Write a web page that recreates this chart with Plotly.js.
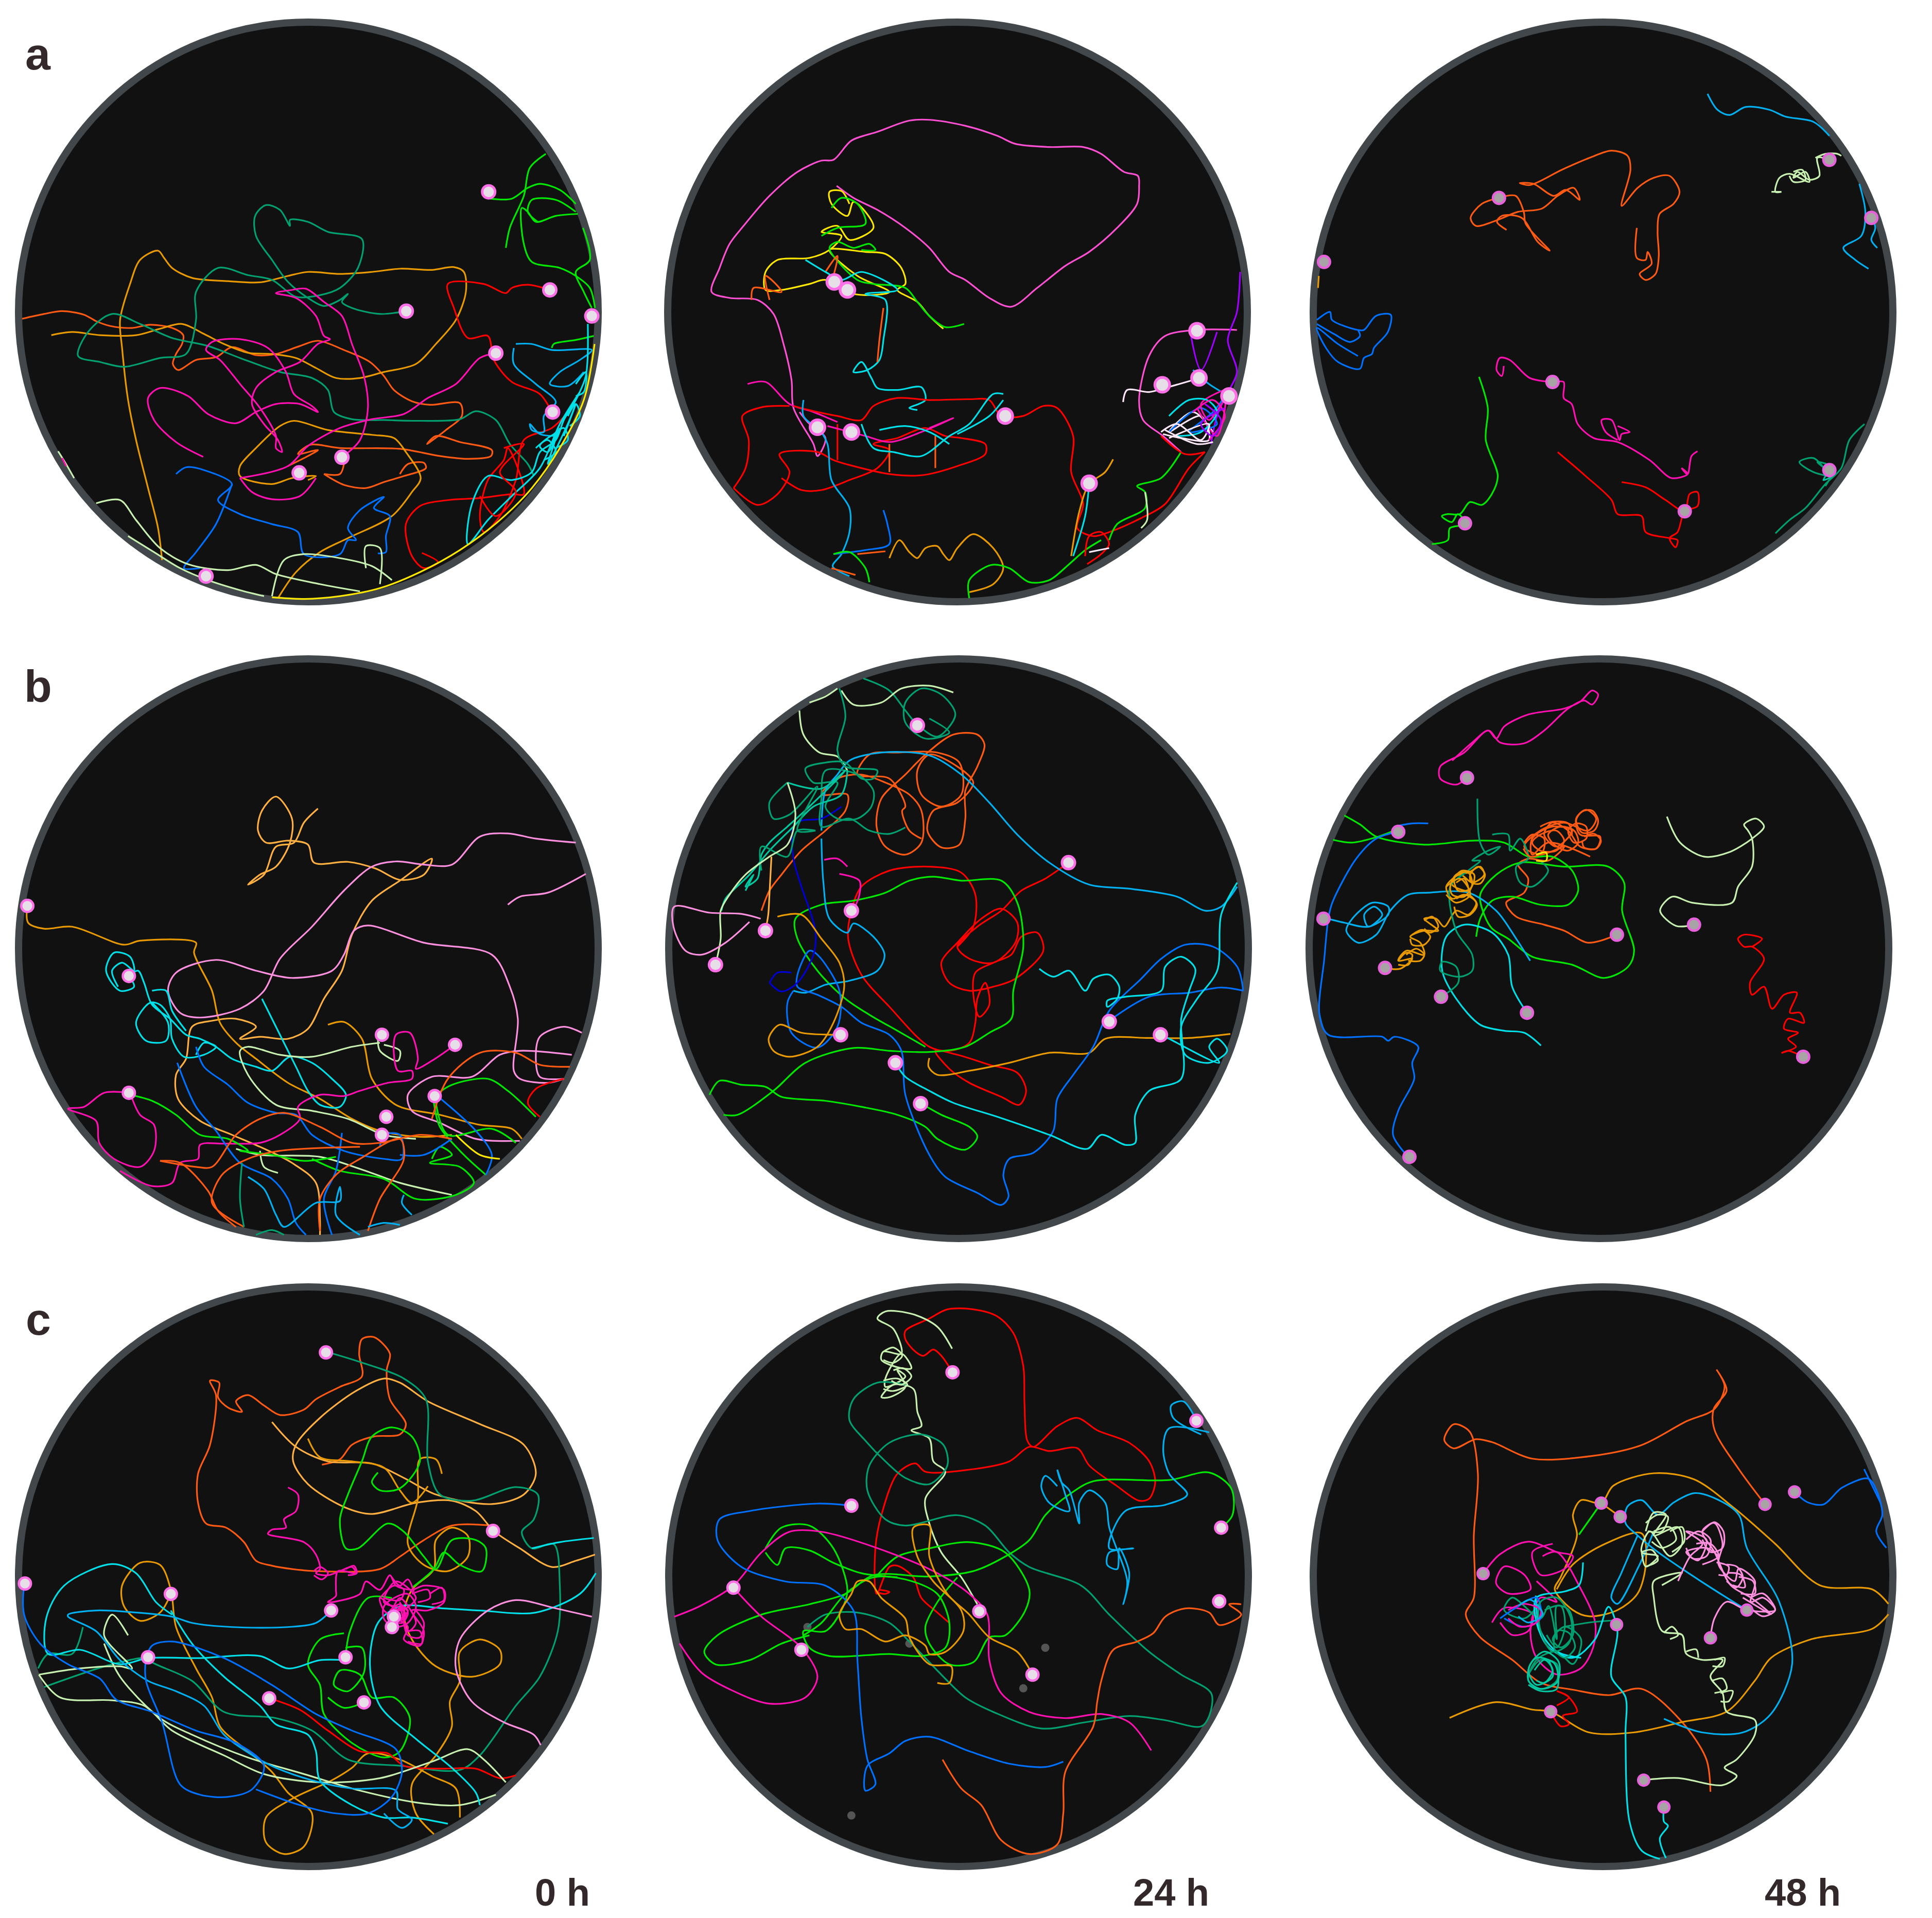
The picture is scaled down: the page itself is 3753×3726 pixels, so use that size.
<!DOCTYPE html>
<html>
<head>
<meta charset="utf-8">
<script src="https://cdn.plot.ly/plotly-3.0.1.min.js"></script>
<style>html,body{margin:0;padding:0;background:#fff}</style>
</head>
<body>
<div id="chart"></div>
<script>
// track colours
const O='#ff5a14', A='#e89a00', L='#ffb040', R='#ff0000', M='#ff10b0', P='#ff90e0', H='#ff50d4', G='#00e800', T='#00a070',
      S='#00c8a0', C='#00e0e8', K='#00b0f0', B='#0070ff', N='#0000d0', V='#c8f0b0', Y='#ffe800', U='#a000ff', W='#ffe8f8';

// panel a, 0 h
const pathsA0 = [
[55,797,110,785,155,778,210,787,240,803,275,815,330,820,375,812,430,820,458,838,455,860,440,885,432,910,445,925,490,900,540,893,580,868,640,888,690,885,750,865,795,852,860,875,925,905,960,940,985,975,1030,1003,1075,1012,1150,1008,1155,1040,1115,1075,1068,1110,1090,1090,1150,1105,1230,1125,1228,1140,1170,1147,1100,1140,1000,1122,850,1120,775,1112,745,1135,795,1125,770,1140,720,1165],
[810,1185,860,1212,915,1220,960,1205,1010,1190,1065,1170,1060,1157,1020,1160,1000,1185],
[810,1185,850,1185,860,1160],
[128,838,180,830,250,838,340,838,400,822,455,810,510,835,560,860,620,882,680,885,740,895,790,920,840,945,900,945,960,930,1040,910,1090,860,1140,800,1165,730,1160,680,1135,668,1080,675,1000,672,930,680,850,685,770,680,720,690,650,706,570,703,480,695,430,670,410,645,395,627,350,650,325,710,300,800,305,870,320,1000,340,1100,370,1220,395,1320,405,1400],
[695,1495,740,1430,800,1380,870,1345,980,1290,1030,1230,1052,1195,1015,1130,985,1095,930,1087,820,1075,735,1052,700,1065,640,1120,600,1165,600,1190,680,1210,730,1195,790,1190,770,1200],
[1015,778,950,785,880,770,855,755,870,735,850,750,810,765,770,745,720,705,680,650,640,590,638,540,665,513,700,525,725,565,725,550,770,555,820,580,905,598,895,670,850,720,800,738,740,742,680,700,620,688,545,670,490,730,490,800,465,885,400,895,310,917,250,905,195,890,220,830,280,785,350,810,430,845,520,865,600,895,700,930,780,945,820,975,835,1030,880,1048,960,1050,1050,1052,1150,1048,1190,1028,1240,1050,1275,1110,1320,1160,1335,1190],
[1240,883,1200,895,1140,960,1070,995,1010,1035,930,1048,850,1070,770,1115,720,1165,600,1195],
[855,1143,900,1100,920,1020,910,940,880,860,855,790,810,755,765,722,730,725,690,733,740,745,790,790,810,840,825,848,795,860,750,905,690,930,640,970,630,1010,660,1060,695,1100,705,1130,690,1120,690,1090,650,1020,600,960,550,900,515,875,530,855,600,848,670,870,715,930,735,985,780,1015,795,1030,750,1010,690,1010,640,1030,590,1058,520,1035,470,990,400,970,370,995,385,1050,440,1105,508,1142],
[600,1195,630,1230,680,1248,750,1240,790,1195],
[1375,725,1320,712,1280,720,1265,733,1210,710,1120,710,1135,770,1170,845,1220,840,1235,900,1280,955,1350,985,1385,1040],
[1055,1382,1095,1405,1060,1420,1030,1390,1015,1310,1050,1265,1120,1250,1200,1245,1280,1235,1310,1235,1270,1120,1260,1150,1220,1200,1200,1290,1210,1330,1250,1290,1290,1200,1310,1100,1380,1070,1430,1020],
[440,1185,465,1168,510,1175,580,1210,545,1250,600,1285,680,1310,745,1330,760,1385,850,1385,870,1350,890,1350,870,1320,900,1275,960,1242,935,1270,975,1290,965,1340,965,1380,945,1383],
[580,1210,540,1310,490,1380,460,1420,500,1420],
[240,1258,300,1250,340,1300,400,1370,470,1410,570,1425,640,1412,690,1435,800,1460,900,1478],
[680,1490,710,1400,760,1385,850,1395,930,1415,980,1450],
[915,1420,915,1365,950,1370,950,1460],
[320,1340,385,1380,450,1420,520,1450,600,1475,660,1490],
[1225,497,1280,497,1320,470,1350,460,1400,475,1440,510],
[1265,620,1275,570,1310,490,1325,420,1365,385],
[1445,535,1390,540,1340,555,1320,530,1305,520,1310,610,1330,655,1400,670,1440,690,1475,720,1488,770],
[1345,555,1320,530,1330,500,1390,500,1440,530],
[1458,570,1475,650,1440,680,1460,730,1480,770],
[1380,870,1385,860,1440,850,1485,840],
[1290,860,1330,860,1380,875,1480,875,1450,900,1400,930,1375,960,1420,965,1460,930],
[1285,870,1285,910,1340,960,1390,1005,1360,1040,1360,1080,1330,1075,1325,1060,1350,1085,1395,1090],
[1470,810,1465,940,1440,1000,1410,1050,1390,1100,1350,1130,1330,1180,1280,1200,1220,1190,1180,1260,1170,1360,1220,1300,1280,1240,1350,1170,1400,1060,1450,980],
[1380,1110,1400,1070,1370,1130,1350,1115,1390,1085,1370,1160,1420,1060,1440,1010,1410,1090],
[1340,1120,1370,1100,1390,1130,1360,1150],
[1380,1090,1410,1070,1420,1100,1390,1120],
[1420,1040,1440,1010,1450,1040,1425,1065],
[1440,960,1465,930,1460,980,1440,990],
[680,1493,760,1497,850,1490,950,1470,1050,1430,1150,1375,1250,1300,1330,1220,1400,1120,1460,1000,1487,860],
[1260,1120,1310,1110,1250,1180,1290,1230,1240,1290,1200,1240],
[145,1128,165,1160,185,1195],
[155,1145,165,1165]
];
const colorsA0 = [O,O,O,A,A,T,M,M,M,R,R,B,B,V,V,V,V,G,G,G,G,G,G,K,K,C,C,C,C,C,C,Y,R,V,M];
const cellsA0 = [1222,480,1375,725,1016,778,1240,883,1382,1030,855,1143,748,1182,515,1440,1480,790];

// panel a, 24 h
const pathsA1 = [
[1225,465,1220,510,1170,570,1100,630,1040,665,970,720,905,767,850,745,790,700,750,680,700,620,640,570,570,525,510,495,468,465],
[1225,465,1222,440,1187,430,1130,385,1085,368,1000,368,915,360,870,340,790,315,700,300,650,302,570,330,505,352,460,400,430,402,370,430,300,490,235,565,200,610,175,670,155,730,200,745,270,750,310,785,335,860,355,950,360,1020,410,1110,420,1140,440,1095,400,1060,375,1030],
[735,822,700,790,670,755,620,725,640,710,630,670,590,635,540,630,450,625,520,690,600,730,540,738,490,730,440,700,400,710,330,725,290,725,290,680,320,650,400,645,450,625,480,590,430,580,470,565,500,600,560,570,540,530,510,505,495,540,455,510,450,480,480,478,500,510],
[787,810,740,818,700,790,670,755,640,720,560,710,520,700,450,620,470,605,510,620,550,610,565,625,530,625],
[430,590,470,570,540,560,520,510,480,495,455,520],
[255,750,260,720,330,730,290,690,300,750],
[440,680,470,640,460,690],
[390,650,440,680,480,700,530,680,620,725,540,735,590,750,585,850,575,900,545,925,510,930,530,905,555,945,570,970,620,975,680,968,690,1000,650,1020,670,1025],
[585,770,575,850,570,905],
[245,960,290,955,350,1010,410,1030,470,1055],
[360,1015,420,1030,470,1040,530,1050,560,1015,620,995,700,1000,800,998,850,1000,880,1040,935,1040,985,1015,1020,1020,1060,1090,1055,1180,1085,1260,1070,1320,1110,1340,1150,1330,1230,1295,1290,1260,1350,1170,1390,1130],
[210,1220,240,1170,248,1100,232,1040,280,1018,350,1015],
[210,1220,270,1262,320,1235,350,1180,325,1135,420,1130,460,1150,510,1165,600,1185,680,1188,770,1165,840,1135,840,1110,780,1095,740,1090,690,1070,620,1095,560,1110,600,1125,570,1170,500,1200,430,1225,380,1225,330,1195],
[600,1110,600,1180],
[715,1090,715,1170],
[470,1060,470,1150],
[445,1065,540,1090,600,1105,680,1080,760,1045,700,1070],
[885,985,860,985,800,1060,750,1090,680,1140,610,1130,560,1120,530,1060],
[885,1000,850,1040,770,1085],
[575,1075,640,1065,700,1080,750,1110],
[420,1065,445,1110,455,1200,500,1270,500,1330,480,1385,458,1415,500,1440],
[385,1000,385,1040,420,1070],
[585,1275,595,1310,600,1360,540,1375,460,1385],
[590,1378,520,1385],
[600,1395,625,1350,650,1380,670,1395,690,1370,720,1365,735,1385,750,1400,770,1370,810,1335,860,1370,885,1420,860,1460,800,1480],
[800,1495,800,1450,855,1412,900,1420,950,1455,1000,1450,1050,1410,1090,1375,1130,1350],
[460,1385,500,1380,540,1420,550,1455],
[455,1420,515,1437],
[1160,1148,1140,1180,1100,1210,1075,1280,1055,1390],
[1100,1210,1090,1290,1060,1390],
[1090,1390,1100,1340,1130,1330,1150,1360,1130,1385,1095,1410],
[1100,1380,1150,1370],
[1150,1350,1170,1310,1240,1270,1240,1230,1220,1215,1280,1195,1330,1130],
[1240,1230,1245,1300,1230,1320],
[1470,825,1370,825,1290,840,1250,890,1225,1000,1235,1050,1285,1090,1330,1130],
[1478,680,1470,780,1447,850,1470,930,1445,985,1420,1040,1405,1110],
[1355,840,1380,925,1420,830],
[1185,1005,1195,975,1250,980,1290,970,1360,950],
[1360,925,1400,960,1450,990],
[1285,1085,1330,1095,1400,1100,1380,1040,1300,1080,1360,1030,1410,1080],
[1300,1080,1380,1020,1420,1060,1350,1080,1410,1030,1440,990],
[1370,1020,1420,1090,1440,1000,1400,1050,1380,1010,1450,970],
[1280,1090,1340,1135,1390,1130],
[1300,1040,1350,1000,1395,1000,1420,1030,1380,1080,1320,1090],
[1360,1030,1410,1000,1440,1040,1400,1100],
[1290,1075,1370,1110,1410,1105],
[1280,1080,1320,1060,1380,1100,1400,1060,1300,1095],
[1390,1010,1430,1050,1410,1090,1380,1060,1440,1020]
];
const colorsA1 = [H,H,Y,G,G,O,O,C,O,M,R,R,R,O,O,R,M,C,C,C,K,K,B,O,A,G,G,O,A,C,R,W,G,V,H,U,U,W,K,W,B,M,R,C,M,W,W,U];
const cellsA1 = [462,705,495,725,420,1068,505,1080,890,1040,1100,1208,1370,827,1283,962,1375,945,1450,990];

// panel a, 48 h
const pathsA2 = [
[503,495,460,510,432,545,445,565,500,550,550,530,610,522,650,490,690,470,705,500,670,475,640,490,590,460,555,458,580,463,660,425,730,395,785,377,825,390,832,425,810,515,850,470,890,445,930,440,955,480,940,510,905,535,900,580,903,640,895,685,870,700,855,685,885,660,875,630,870,650,848,645,848,570],
[503,495,545,490,565,530,570,560,630,627,600,605,560,545,510,540,498,555,522,575],
[1025,235,1050,275,1080,288,1120,268,1180,275,1220,292,1290,305,1330,340],
[1330,400,1300,395,1305,440,1280,450,1250,430,1240,445,1270,430,1280,455,1230,435,1205,445,1195,480,1210,480,1185,480],
[1405,460,1420,530,1410,590,1365,620,1395,650,1428,672],
[1430,530,1445,570,1435,600,1450,620],
[47,800,80,780,85,800,150,825,165,825,195,790,232,787,225,830,190,870,185,885,165,895,155,922,100,905,70,870,47,820,100,860,150,890],
[47,810,90,835,130,855,155,840,150,825],
[52,690,50,720],
[1000,1128,985,1140,975,1185,960,1170,975,1185,935,1195,880,1150,800,1105,740,1095,700,1060,685,1010,665,995,665,955,637,955,580,945,530,900,505,895,497,925,510,940,515,915],
[800,1100,770,1080,760,1050,785,1050,805,1100,810,1085,830,1080,800,1065],
[650,1130,720,1190,785,1250,800,1285,860,1290,870,1330,930,1345,950,1350,945,1368,930,1345,950,1330,968,1278,1000,1265,1000,1230,980,1235,968,1278,920,1250,870,1218,810,1205],
[453,942,475,1020,470,1100,500,1190,485,1235,460,1262,430,1255,405,1285,375,1285,360,1290,385,1305,400,1285,420,1310,380,1320,375,1350,335,1360],
[1418,1060,1380,1100,1360,1170,1320,1210,1270,1270,1230,1300,1195,1333],
[1320,1175,1290,1145,1255,1155,1290,1180,1340,1190,1300,1155,1340,1170,1320,1215],
[1320,1170,1335,1190,1315,1200,1335,1170],
[1240,430,1262,425,1270,450,1240,455,1230,440],
[1295,395,1320,385,1350,385,1360,390]
];
const colorsA2 = [O,O,K,V,K,K,B,B,A,M,M,R,G,T,T,S,V,V];
const cellsA2 = [503,495,1330,400,1435,545,65,655,637,955,968,1278,418,1308,1330,1175];

// panel b, 0 h
const pathsB0 = [
[795,425,760,460,735,510,690,520,660,590,620,615,650,590,690,570,725,510,730,450,690,395,655,430,645,480,665,510,720,505,770,515,785,560,870,558,940,575,1000,603,1060,590,1080,550,1000,605,930,655,880,740,855,830,810,900,770,975,720,1000,650,995,600,1000,640,970,590,950,530,955,480,970,465,1050,440,1090,445,1150,500,1205,580,1240,650,1270,730,1310,790,1360,800,1450,800,1490],
[68,668,70,710,110,725,180,720,310,765,350,755,490,760,485,785,530,880,550,960,590,1010,640,1050,720,1110,800,1150,880,1200,950,1230,1050,1245,1130,1240],
[820,965,860,958,905,1000,930,1100,990,1165,1100,1190,1200,1215,1280,1225,1305,1250],
[1440,510,1340,500,1270,487,1200,495,1130,565,1060,565,990,557,930,570,860,630,780,720,700,800,660,880,600,925,500,947,450,935,420,880,440,835,540,803,640,830,730,848,830,830,860,790,885,730,920,717,1060,760,1230,790,1275,870,1295,950,1285,1080,1300,1100,1370,1110,1410,1100],
[1270,665,1300,645,1370,635,1465,588],
[1455,985,1410,970,1350,995,1340,1050,1350,1095,1410,1100],
[1430,1040,1300,1030,1250,1040,1180,1095,1080,1095,1020,1140,1030,1180,1100,1210,1190,1250,1300,1255],
[322,843,345,830,360,860,380,915,425,950,465,990,500,1000,540,1020,580,1050,640,1070,680,1080,725,1045,780,1060,830,1100,865,1140,850,1170,800,1165,770,1130,740,1070,700,990,655,900],
[322,843,335,870,300,880,265,830,285,785,325,795,335,830,305,810,280,830,295,870],
[380,910,420,960,415,1005,365,1005,340,960,375,910,400,915,425,950,430,1000,460,1045,510,1040,540,1020,510,1010,490,1040],
[380,880,415,880,430,930,465,980],
[950,1010,880,1020,780,1045,700,1040,620,1020,600,1030,620,1090,690,1165,780,1180,870,1200,960,1240,1040,1250],
[945,1000,950,1030,995,1055,1000,1030,960,1015],
[590,1275,650,1290,800,1295,900,1325,1000,1360,1130,1390],
[650,1280,660,1320,695,1335],
[1138,1015,1080,1055,1040,1075,1045,1050,1025,985,990,990,995,1080,1030,1080,1030,1100,970,1110,900,1130,860,1143,800,1140,745,1170,750,1200,700,1240,650,1260,560,1262,500,1265,495,1300,450,1310,430,1360,380,1368,300,1330],
[322,1135,260,1135,210,1170,170,1175,240,1205,248,1260,285,1300,350,1320,385,1280,385,1215,350,1190,325,1135],
[325,1140,380,1155,440,1190,500,1240,570,1250,620,1280,600,1280,680,1290,760,1305,840,1295],
[1090,1140,1130,1115,1220,1100,1270,1130,1340,1195],
[1085,1160,1100,1220,1160,1290,1215,1340],
[1080,1300,1100,1270,1130,1290,1075,1310,1150,1320,1185,1360,1140,1390,1040,1400,960,1350,850,1330,780,1300],
[1090,1160,1120,1240,1230,1225,1290,1260],
[443,1060,490,1170,540,1230,600,1310,680,1350,720,1400,740,1460,765,1490],
[490,1020,510,1070,570,1115,620,1160,690,1185,740,1190,780,1240,860,1280,960,1300,1005,1300,1000,1240,960,1240,950,1270],
[855,1235,840,1330,810,1400,830,1490],
[1090,1140,1190,1230,1230,1290,1215,1340],
[1000,1290,1060,1290,1130,1250],
[400,1305,450,1310,520,1380,545,1430,590,1470],
[400,1305,490,1320,530,1320,590,1240,650,1200,710,1185,800,1220,880,1260,950,1260,1050,1240,1130,1250],
[610,1470,530,1410,555,1340,620,1300,700,1280,900,1270],
[920,1480,950,1400,1010,1300,1000,1250,900,1300,840,1340,800,1400,800,1480],
[1080,1200,1120,1100,1200,1035,1290,1035,1350,1065,1425,1070],
[1410,1100,1340,1125,1320,1160,1350,1195],
[620,1345,660,1375,690,1440,710,1470,790,1410,850,1405,850,1370,840,1440,900,1490],
[1010,1390,1005,1410,1030,1440],
[920,1470,960,1460,1000,1465],
[605,1310,600,1400,610,1470],
[640,1490,680,1478,710,1490],
[1140,1240,1200,1290,1250,1300]
];
const colorsB0 = [L,A,A,P,P,P,P,C,C,C,C,V,V,V,V,M,M,G,G,G,G,G,B,B,B,B,B,O,O,O,O,O,R,K,K,K,T,T,Y];
const cellsB0 = [68,668,322,843,322,1135,955,990,1138,1015,1087,1143,966,1195,955,1240];

// panel b, 24 h
const pathsB1 = [
[1048,560,990,600,930,630,880,680,820,720,770,770,800,800,860,810,915,760,920,710,880,675,830,700,770,760,730,810,750,860,800,880,860,870,915,850,985,780,970,735,930,745,905,790,860,810,815,835,810,890,825,945,850,915,840,860,820,900,815,960,800,1010,750,1030,700,1020,600,920,530,840,497,750,505,680,530,620,600,580,700,570,780,585,815,640,810,720,770,770],
[715,1030,770,1040,850,1065,920,1085,942,1130,925,1165,880,1145,800,1110,750,1075,715,1030],
[690,1020,620,980,550,940,490,900,420,830,370,750,365,700,430,665,510,655,590,635,650,605,710,595,780,605,880,605,920,660,935,770,910,880,905,950,850,985,790,1020,700,1033,600,1030,510,1023,390,1060,310,1130,220,1190,185,1190],
[680,1162,730,1190,800,1220,820,1245,790,1277,720,1250,690,1220,620,1190,530,1170,440,1155,330,1145,290,1120,230,1115,175,1105,150,1140],
[1453,988,1350,998,1250,998,1140,1000,1100,1035,1000,1035,900,1060,800,1080,720,1090,698,1070,700,1048],
[280,680,300,630,330,590,380,530,440,480,490,430,495,390,430,390,470,350,530,340,590,360,650,390,680,430,680,510,640,540,590,520,568,470,580,400,640,340,690,290,760,240,820,240,838,265,820,320,790,380,790,450,775,515,730,522,695,480,710,430,770,410,810,360,770,320,700,290,670,330,680,390,730,420,780,390,775,310,720,285,620,285,550,290,520,340,600,350,640,420,632,430,650,480,680,500],
[430,480,440,380,470,340,500,305,580,285,700,292,780,340,850,410,920,490,1000,560,1100,615,1200,625,1320,645,1390,680,1430,670,1470,620],
[430,500,435,610,450,700,495,735,510,712,560,745,588,790,570,830,500,855,440,865,390,885,360,880],
[360,880,345,910,355,985,420,1022,470,970,475,880,420,790,400,780,370,840,370,870,420,890,480,920,530,960,600,990,630,1030,640,1140,700,1290,740,1345,820,1385,880,1415,898,1395,885,1340,900,1300,960,1285,1010,1230,1020,1150,1060,1090,1110,1020,1150,930,1230,850,1280,800,1340,765,1410,770,1470,820,1485,880],
[1150,955,1250,895,1350,885,1430,872,1485,880],
[300,860,320,835,355,835],
[300,860,330,882,370,860,410,790,415,730,380,620,360,550,360,470,380,455,430,450,480,420],
[975,825,1010,845,1050,830,1090,880,1110,850,1150,840,1175,870,1170,900,1145,920,1145,905,1190,895,1280,880,1290,820,1330,795,1365,825,1350,880,1330,950,1330,1100,1250,1130,1215,1190,1215,1260,1190,1265,1130,1240,1095,1275,1000,1240,870,1195,760,1160,700,1130,640,1095,615,1060],
[1470,610,1430,690,1420,830,1370,900,1330,970,1340,1040,1400,1060,1445,1030,1420,1000,1400,1020,1425,1060,1300,1000,1280,990],
[535,100,600,130,640,180,670,215,720,245,765,190,730,140,680,125,640,160,640,210,690,250,750,235,700,200],
[760,135,700,118,630,125,580,160,510,165,480,130],
[375,180,385,240,425,285,470,295,495,330],
[400,160,440,145,470,125],
[475,125,490,195,470,280,490,320,570,330,560,350,530,350,490,310,440,310,390,325,410,360,470,360,440,420,470,450,520,450,555,420,560,380,520,340,440,330,430,400,430,470,500,450,550,480,600,488,640,472],
[180,680,190,650,250,590,300,530,360,470,410,420,480,390,495,330],
[345,360,430,375,490,330,400,420,345,470,300,510,280,540,270,600,240,620,260,590,240,630],
[345,360,300,410,310,450,350,440,420,370,370,480,415,480,370,480,345,545,280,520,280,580],
[165,815,178,750,178,680,200,640,240,590,300,545,345,515,365,440,345,360],
[278,700,230,688,150,685,62,670,60,720,90,780,130,790,190,760,250,708],
[437,553,470,550,495,570],
[475,588,525,605,525,640,510,680],
[290,730,297,690,300,640,305,545],
[320,695,380,690,430,750,475,810,487,870,460,960,420,1020,350,1045,310,1030,298,1000,325,965,380,985,478,990]
];
const colorsB1 = [R,R,G,G,A,O,K,K,B,B,N,N,C,C,T,V,V,V,T,S,S,T,V,P,M,M,L,A];
const cellsB1 = [670,217,1048,560,505,680,290,730,165,815,478,990,615,1060,678,1162,1150,957,1278,990];

// panel b, 48 h
const pathsB2 = [
[437,348,410,365,370,350,370,320,430,285,490,230,520,260,580,262,630,230,690,175,730,155,750,165,765,140,750,130,720,158,680,175,590,190,530,220,510,250,490,230,450,260,400,305],
[1005,715,960,718,920,680,950,645,1000,660,1100,660,1115,620,1150,570,1150,500,1140,480,1130,465,1160,450,1180,470,1150,500,1090,535,1030,545,970,510,937,445],
[1278,1045,1240,1030,1225,1035,1260,1020,1240,1000,1265,985,1230,975,1240,950,1280,960,1270,935,1245,935,1262,885,1230,890,1200,925,1180,870,1150,890,1145,860,1180,800,1150,770,1130,770,1115,750,1130,740,1175,750,1150,770],
[812,740,740,760,680,730,630,715,560,695,535,660,580,635,590,600,565,565,590,550,640,555,680,520,620,540,580,520,620,480,680,460,740,480,760,450,735,428,710,450,720,490,770,495,760,525,720,520,690,480,650,460,630,490,660,520,700,480,650,470,600,500,600,540,640,510,745,545],
[130,442,170,465,210,495,330,515,450,505,530,510,590,545,650,545,700,580,715,630,690,665,620,665,550,645,500,655,470,700,460,745],
[102,503,150,510,215,495,255,480],
[470,640,510,590,570,560,680,570,790,570,830,610,825,680,855,780,840,820,780,848,700,815,600,795,540,750,500,725,480,690,470,640],
[265,483,210,500,160,550,100,660,90,700,80,800,68,940,90,990,225,995,240,1005,255,995,315,1020,300,1060,305,1100,265,1180,252,1240,290,1295],
[255,470,300,462,340,462],
[78,697,130,710,190,720,240,690,240,670,200,660,150,700,135,730,165,760,210,740,245,680,290,640,340,635,440,635,510,680,560,750,595,805],
[190,720,180,690,205,670,225,690,190,720],
[232,823,270,825,300,800,265,805,285,780,330,790,320,760,295,745,330,730,365,730,330,700,360,700,380,720,410,680,440,690,460,660,430,640,400,650,385,620,420,590,450,610,480,590,470,570,440,585,410,590,400,615,440,630,430,600,410,610],
[587,935,550,870,540,790,500,735,430,715,385,745,375,830,410,900,470,965,530,980,580,985,622,1017],
[372,895,415,860,410,820,375,808,370,830,420,845,450,830,450,790,410,730,395,620,440,580,470,555,450,555,490,530,520,520,490,540,470,510,463,400],
[500,490,540,490,545,530,570,500,590,550,560,570,570,610,600,620,640,580,620,555],
[600,510,620,490,660,480,680,505,660,530,620,530,600,510],
[640,490,670,470,705,480,715,510,690,530,655,515,640,490],
[690,480,710,462,735,470,735,500,705,510,690,480],
[710,455,725,432,750,430,765,455,755,480,725,485,710,455],
[730,495,755,488,772,505,760,525,730,522,725,505],
[580,510,600,490,630,500,625,535,595,545,578,525],
[610,540,635,535,635,555,610,555],
[620,470,650,458,690,462,700,490],
[395,620,410,590,440,585,450,615,430,645,400,640,395,620],
[405,600,425,580,455,590,445,625,415,630,405,600],
[445,590,465,570,482,590,470,612,448,610,445,590],
[410,650,440,640,462,665,445,690,415,695,405,670],
[300,740,325,728,345,745,330,765,300,765,295,750],
[265,805,285,785,300,790,290,815,265,815],
[285,790,310,775,330,790,320,805,290,805],
[330,705,350,695,365,720,345,735,330,725],
[385,620,420,600,445,640,410,660,385,640]
];
const colorsB2 = [M,V,R,O,G,G,G,B,B,K,K,A,C,T,T,O,O,O,O,O,O,Y,O,A,A,A,A,A,A,A,A,A];
const cellsB2 = [437,348,265,483,78,700,812,740,1005,715,232,823,372,895,587,935,1278,1045,293,1295];

// panel c, 0 h
const pathsC0 = [
[805,478,850,465,880,430,935,410,1000,405,1015,380,975,320,967,250,975,210,935,170,905,175,898,210,905,265,850,290,790,320,760,345,700,358,660,335,620,310,590,325,605,350,570,340,545,315,548,280,525,275,540,310,525,430,495,500,495,570,515,620,565,630,610,665,640,710,680,722,730,730,790,735,950,730,1000,700,1060,660,1130,625,1230,625],
[680,375,740,435,820,470,930,475,1010,510,1090,550,1230,573,1310,550,1340,500,1310,430,1200,380,1070,325,1000,280,960,270,890,300,800,365,740,430,733,470,770,525,860,580,930,597,1040,570,1130,565,1190,590,1235,638,1300,680,1380,725,1440,710,1488,695],
[770,415,800,460,880,470,960,485,1000,540,1030,570,1070,530],
[1105,500,1090,465,1050,465,1045,560,1020,670,1060,720,1120,735,1170,700,1170,650,1130,630,1090,660,1085,730,1030,780,1010,840,1030,900,1090,965,1180,990,1250,960,1250,925,1200,900,1150,930,1150,1000,1125,1050,1130,1110,1090,1180,1030,1250,1040,1320,1085,1370],
[427,790,400,835,350,855,310,820,305,770,350,715,400,720,427,780,440,870,490,970,530,1040,550,1110,620,1170,680,1220,720,1270,780,1320,760,1400,710,1418,665,1390,665,1330,730,1285,830,1240,880,1210,920,1175,1000,1190,1080,1230,1140,1260,1150,1330],
[815,205,900,230,1010,270,1065,320,1070,470,1100,550,1180,565,1290,532,1345,550,1335,610,1305,640,1330,680,1385,670,1400,770,1395,880,1350,990,1290,1060,1200,1180,1150,1215,1000,1205,870,1190,780,1120,690,1090,560,1075,480,1000,380,955,370,945,280,960,110,1015],
[207,870,180,935,120,935,95,970],
[945,497,930,520,950,540,1000,535,1050,470,1030,410,980,388,930,410,905,470,870,550,850,610,865,680,895,680,970,620,1010,640,1060,700,1090,730,1130,660,1190,660,1215,680,1205,735,1150,720,1110,690,1085,730,1030,775],
[864,943,875,880,920,800,980,800],
[864,920,905,920,910,980,870,1025,835,1010,850,975,900,985,930,1040,985,1040,1025,1090,1000,1170,960,1185,880,1150,810,1080,800,1010,770,960,800,900,860,885],
[910,1052,860,1065,820,1040],
[673,1042,750,1070,820,1120,900,1170,970,1175,1010,1205,1100,1212,1190,1212,1250,1235,1290,1228],
[97,985,200,970,300,965,330,970,260,890,280,840,320,890],
[97,985,150,1040,280,1047,360,1060,430,1120,560,1180,660,1225,800,1245,950,1235,1080,1195,1170,1165,1210,1190,1265,1245],
[260,910,300,990,400,1090,480,1130,620,1185,760,1225,900,1265,1050,1295,1150,1300,1240,1275],
[427,830,480,910,560,990,650,1060,690,1105,770,1130,790,1170,800,1240,880,1300,960,1330,1030,1330,1120,1345],
[864,950,800,950,720,970,650,940,500,945,370,945,300,960,200,925,120,935,115,850,160,770,280,718,340,740,390,810,430,840],
[1490,740,1450,790,1340,835,1200,830,1110,825,1000,820,945,860,925,960,950,1060,1040,1140,1130,1210,1190,1270,1200,1300],
[1485,655,1400,665,1330,680],
[828,830,790,860,720,870,580,870,480,860,430,845,340,835,240,830,170,840,170,845,240,880,300,950,370,1000,440,1025,510,1060,560,1130,640,1185,690,1210,780,1240,880,1260,990,1265,995,1310,1030,1335,1005,1355,960,1320],
[60,765,60,840,100,910,170,960,250,995,290,1045,380,1075,490,1120,590,1150,660,1205,630,1262,570,1280,500,1275,450,1250,405,1100,365,1000,365,950,380,915,430,905,560,945,680,1010,790,1080,880,1120,990,1165,1005,1220,980,1280,920,1320,840,1320,750,1300,640,1262],
[1480,845,1390,825,1290,805,1220,830,1150,900,1140,970,1180,1050,1260,1100,1335,1130,1352,1155],
[720,533,745,550,740,590,710,610,715,630,680,635,670,645,760,665,790,695,800,730,790,740,820,745,850,735,880,725,890,740,845,735,840,780,840,795,820,810,900,790,915,760,950,780,975,745,990,770,1030,780,1060,770,1110,780,1110,810,1070,830,1030,830,1060,880,1050,915,1010,900,1020,870,960,830,950,800,1000,830,1040,800,990,760,960,810,1020,830,990,860,1010,840,1000,810,1020,880,1040,860,1000,800,980,840,1000,850],
[960,820,985,800,1020,790,1040,820,1020,860,985,870,960,850,960,820],
[975,830,1000,815,1020,835,1005,860,980,855],
[985,835,1000,825,1015,840,1000,855,985,850],
[990,830,1010,830,1010,850,990,850],
[1030,790,1070,780,1075,800,1045,810],
[1040,830,1060,860,1050,895,1020,890,1010,860],
[950,800,985,770,1010,780,1000,805,960,800],
[980,750,1000,770,1020,755,1035,785],
[1075,790,1105,775,1110,805,1080,815],
[1020,880,1050,880,1055,910,1020,905],
[785,735,800,725,820,740,805,755,785,745],
[865,730,885,722,892,740,870,745]
];
const colorsC0 = [O,L,A,A,A,T,T,G,G,G,G,R,V,V,V,C,C,C,C,K,B,P,M,M,M,M,M,M,M,M,M,M,M,M,M];
const cellsC0 = [815,207,1233,638,62,765,427,790,828,830,985,845,980,870,370,943,864,943,673,1042,910,1052];

// panel c, 24 h
const pathsC1 = [
[758,255,730,215,710,200,685,215,665,205,640,175,640,155,700,125,745,103,810,103,870,120,910,160,935,240,938,330,945,420,960,435,1020,385,1070,365,1120,395,1200,425,1250,470,1265,520,1250,560,1225,565,1170,530,1100,480,1070,438,1000,445,950,435,900,470,800,490,690,495,665,475,620,500,580,600,565,680,568,790,600,725,620,722,660,750,680,800,720,835,750,860],
[575,780,600,785,590,790,565,785],
[757,198,720,145,660,115,590,108,570,125,610,150,630,210,585,205,580,225,630,245,655,245,630,210,590,270,590,290,640,265,620,250,640,290,600,315,580,315,610,285,660,295,670,350,680,385,655,395,700,415,710,470,740,495,690,560,700,620,730,690,780,750,820,815],
[640,285,570,280,510,320,500,370,540,420,590,470,640,510,700,525,745,480,735,430,680,405,600,425,550,480,545,540,590,610,640,625,770,600,840,625,900,690,950,725,1080,770,1150,840,1250,930,1330,985,1405,1030,1400,1085,1380,1110,1290,1095,1200,1085,1090,1100,980,1115,860,1075,790,1040,730,985,650,905,600,860,520,835,440,840,395,870],
[1430,630,1458,600,1455,535,1400,497,1300,515,1110,518,1050,550,990,600,950,660,880,705,810,735,700,748,560,745,490,790,400,815,280,840,170,890,137,930,165,960,250,950,330,910,400,890],
[570,745,620,700,700,680,800,665,890,690,950,780,940,830,890,890,850,895,810,955,750,960,700,910,690,870,720,810,770,750],
[290,690,320,720,340,680,400,685,460,715,530,740,620,750],
[290,680,330,630,400,625,460,680,495,780,480,830,440,880,385,880,400,920,450,940,600,935,680,940,740,920,750,860,720,790,640,755,560,750,490,790,430,860,385,890],
[62,845,125,820,210,770,280,690,350,640,430,640,600,690,720,740,800,790,845,840,850,950,880,1030,950,1075,1040,1090,1130,1080,1200,1100,1255,1168],
[210,775,280,845,380,920,420,990,390,1040,300,1055,200,1020,130,980,75,910],
[505,577,420,572,250,590,175,610,170,660,230,725,340,760,440,770,510,830,520,950,530,1090,545,1190,565,1250,540,1265,545,1205,600,1175,640,1145,700,1135,800,1170,900,1200,990,1208,1035,1195],
[1380,405,1310,365,1305,335,1335,325,1370,375],
[1400,400,1300,390,1285,440,1300,500,1345,550,1290,575,1190,590,1150,680,1210,680,1150,690,1145,720,1170,730,1175,680,1200,740,1185,815,1195,760,1150,630,1140,570,1100,540,1075,570,1075,620,1050,540,1030,520,1020,490,1040,550,1050,590,1000,570,980,530,990,505,1020,530],
[958,985,920,930,850,895,800,840,745,790,700,700,700,625,660,630,670,700,710,760,780,830,785,880,740,930,700,935,690,915,640,890,590,905,530,875,490,875,475,840,505,790,520,760,550,760,580,800,640,850,650,895,700,960,755,965,750,1005,720,1005],
[1480,815,1450,815,1480,840,1425,865,1400,835,1340,825,1290,845,1260,885,1220,905,1160,925,1130,1000,1120,1050,1110,1110,1040,1220,1035,1320,1020,1395,950,1418,880,1385,830,1300,780,1260,733,1190],
[585,205,610,195,632,215,610,232,585,225],
[610,250,635,245,655,265,630,285,605,275],
[585,275,620,270,645,285,610,300,585,295]
];
const colorsC1 = [R,R,V,T,G,G,G,G,M,M,B,K,K,A,O,V,V,V];
const cellsC1 = [758,255,505,577,1430,630,210,775,825,832,380,925,958,985,1425,808,1368,372];
const dustC1 = [990,920,935,1018,505,1325,395,870,650,910];

// panel c, 48 h
const pathsC2 = [
[1155,575,1090,490,1030,395,1028,345,1060,300,1035,250,1055,290,1030,345,960,375,850,432,730,458,580,465,480,425,440,418,385,440,362,420,385,382,425,400,445,500,435,650,435,800,415,840,450,895,530,950,600,1005,680,1022,770,1035,850,1020,950,1100,1010,1190,1020,1268],
[375,1090,490,1052,580,1070,625,1075,720,1125,830,1125,950,1100,1060,1075,1130,1000,1170,945,1270,900,1420,875,1460,840],
[1460,815,1420,780,1290,770,1180,670,1080,585,980,515,880,500,780,530,750,572,700,565,680,600,690,650,650,750,635,780,680,830,720,845,790,830,840,790,860,720,850,645,760,670,680,720,640,780],
[797,605,750,572],
[695,648,750,572],
[458,742,500,695,570,665,640,690,680,700,660,730,600,745,580,690,630,670],
[510,725,560,745,575,780,520,790,490,765,510,725],
[605,700,640,690,700,780,735,860,730,920,700,970,640,985,590,945,575,880,600,800,640,810,590,760],
[480,860,510,825,580,840,570,880,530,890,500,860],
[570,985,600,950,640,960,640,1000,600,1020,570,1000,590,950,640,930,680,960,700,900,660,870,630,900,650,920,680,890,670,830,640,820,640,900,620,820,600,850,530,800,510,830,560,850,600,810],
[660,870,720,860,780,855],
[570,1010,600,1025,640,1020,635,960,590,945,570,975,590,1010,630,990,620,950],
[905,1305,905,1340,915,1350,895,1380,910,1428],
[895,1430,850,1410,820,1340,810,1130,810,1040,775,990,790,880,768,822,735,900,680,945,620,920,590,860,590,800,660,785,695,770,705,715],
[588,795,600,880,640,930,700,945],
[905,1092,1000,1125,1100,1125,1170,1080,1222,960,1190,810,1110,680,1090,600,1030,560,980,548,930,570,890,600,850,565,815,580,810,620,840,650,890,690,980,750,1060,800,1110,830],
[840,650,800,740,775,800,790,815,840,730,880,640],
[1228,545,1260,570,1300,575,1345,535,1410,513,1430,540,1445,600,1430,640,1455,680],
[1400,490,1440,570],
[855,1240,940,1235,1050,1252,1085,1230,1055,1210,1085,1190,1130,1130,1130,1095,1060,1075,1050,1030,1020,990,1050,950,1000,950,960,935,950,890,900,880,880,800,880,760,950,740,900,770],
[860,640,880,595,910,600,880,650,940,630,950,670,920,700,870,640,850,690,890,700,860,725,850,690],
[1020,897,1030,850,1060,810,1110,830,1180,830,1150,800,1120,810,1130,760,1090,730,1080,760,1040,720,1050,670,1030,620,1000,640,1030,690,1070,770,1120,800,1170,840,1100,800],
[940,760,970,700,1000,670,960,640,1010,660,990,710,960,690,1010,680,1040,700],
[625,1075,650,1110,670,1105,655,1085,690,1075,670,1040,640,1025,670,1040,640,1060],
[500,850,530,830,590,800,600,850,560,870,510,850],
[1000,640,1030,618,1052,640,1050,680,1020,690,1000,660],
[1060,720,1085,725,1100,750,1085,775,1060,760],
[1090,750,1125,760,1130,790,1095,790],
[1120,800,1150,790,1180,830,1150,845,1120,825],
[960,660,990,640,1020,660,1010,700,975,705,960,680],
[985,670,1020,670,1040,700,1000,720],
[1035,715,1065,725,1060,745,1040,745],
[1065,740,1095,745,1105,775,1075,770],
[860,620,890,600,915,605,900,640,865,640],
[880,640,920,630,935,660,900,680,875,665],
[920,640,950,630,955,665,925,690],
[850,690,875,685,890,710,860,725],
[905,885,925,870,940,890,920,900],
[960,930,985,925,990,945],
[1030,950,1055,945,1050,965,1025,965],
[1025,1000,1050,995,1060,1020,1030,1030],
[1045,1030,1075,1025,1065,1050,1045,1050],
[600,810,640,800,675,850,670,910,630,930,600,880,600,810],
[610,830,650,820,660,870,640,920,615,890],
[640,880,670,885,685,920,660,945,635,925,640,880],
[575,960,610,930,645,955,640,1005,600,1020,570,1000,575,960],
[585,975,610,950,630,975,610,1005,590,1000],
[520,830,560,815,600,830,590,860,550,870,520,850],
[545,820,575,805,605,840,570,860,545,845]
];
const colorsC2 = [O,A,A,A,G,M,M,M,M,T,T,S,C,C,C,K,K,B,B,V,V,P,P,R,B,P,P,P,P,P,P,P,P,V,V,V,V,V,V,V,V,V,T,T,T,S,S,M,K];
const cellsC2 = [1155,575,1228,545,750,572,797,605,458,742,1110,830,1020,897,788,865,625,1075,855,1240,905,1305];

const rowLabels = ['a', 'b', 'c'];
const timeLabels = ['0 h', '24 h', '48 h'];

// where each dish sits on the page, and the box it spans in the track coordinates
const W_PX = 3753, H_PX = 3726;
const panels = [
  {paths: pathsA0, colors: colorsA0, cells: cellsA0, left: 29,   top: 36,   size: 1140, box: [37,1505,47,1513], cellSize: 30},
  {paths: pathsA1, colors: colorsA1, cells: cellsA1, left: 1290, top: 36,   size: 1140, box: [36,1505,47,1513], cellSize: 34},
  {paths: pathsA2, colors: colorsA2, cells: cellsA2, left: 2544, top: 36,   size: 1140, box: [29,1498,47,1513], cellSize: 28, dark: true},
  {paths: pathsB0, colors: colorsB0, cells: cellsB0, left: 29,   top: 1273, size: 1140, box: [37,1505,42,1508], cellSize: 28},
  {paths: pathsB1, colors: colorsB1, cells: cellsB1, left: 1292, top: 1273, size: 1140, box: [39,1507,42,1508], cellSize: 30},
  {paths: pathsB2, colors: colorsB2, cells: cellsB2, left: 2536, top: 1273, size: 1140, box: [33,1501,42,1508], cellSize: 28, dark: true},
  {paths: pathsC0, colors: colorsC0, cells: cellsC0, left: 29,   top: 2493, size: 1140, box: [37,1505,40,1457], cellSize: 28},
  {paths: pathsC1, colors: colorsC1, cells: cellsC1, left: 1292, top: 2493, size: 1140, box: [39,1507,40,1457], cellSize: 28, dust: dustC1},
  {paths: pathsC2, colors: colorsC2, cells: cellsC2, left: 2544, top: 2493, size: 1140, box: [29,1480,42,1457], cellSize: 26, dark: true}
];

const xs = a => a.filter((_, i) => i % 2 === 0);
const ys = a => a.filter((_, i) => i % 2 === 1);

const traces = [], shapes = [];
const layout = {
  width: W_PX, height: H_PX,
  margin: {l: 0, r: 0, t: 0, b: 0},
  paper_bgcolor: '#ffffff', plot_bgcolor: 'rgba(0,0,0,0)',
  showlegend: false,
  font: {family: 'Liberation Sans, Arial, sans-serif', color: '#33292b'}
};

panels.forEach((p, i) => {
  const n = i + 1, xa = 'x' + n, ya = 'y' + n;
  const [x0, x1, y0, y1] = p.box;
  const axis = {visible: false, fixedrange: true};
  layout['xaxis' + n] = {...axis, domain: [p.left / W_PX, (p.left + p.size) / W_PX], range: [x0, x1]};
  layout['yaxis' + n] = {...axis, domain: [1 - (p.top + p.size) / H_PX, 1 - p.top / H_PX], range: [y1, y0]};

  // dish: rim stroke sits just inside the box
  const rimW = 14, insetX = (rimW / 2) * (x1 - x0) / p.size, insetY = (rimW / 2) * (y1 - y0) / p.size;
  shapes.push({type: 'circle', layer: 'below', xref: xa, yref: ya,
    x0: x0 + insetX, x1: x1 - insetX, y0: y0 + insetY, y1: y1 - insetY,
    fillcolor: '#111111', line: {color: '#41474a', width: rimW}});

  if (p.dust) {
    traces.push({type: 'scatter', mode: 'markers', xaxis: xa, yaxis: ya, x: xs(p.dust), y: ys(p.dust),
      marker: {size: 16, color: '#555555'}, hoverinfo: 'skip'});
  }
  p.paths.forEach((path, j) => {
    traces.push({type: 'scatter', mode: 'lines', xaxis: xa, yaxis: ya, x: xs(path), y: ys(path),
      line: {color: p.colors[j], width: 3.2, shape: 'spline', smoothing: 0.9}, hoverinfo: 'skip'});
  });
  traces.push({type: 'scatter', mode: 'markers', xaxis: xa, yaxis: ya, x: xs(p.cells), y: ys(p.cells),
    marker: {size: p.cellSize, color: p.dark ? '#e860dc' : '#ff70e8'}, hoverinfo: 'skip'});
  traces.push({type: 'scatter', mode: 'markers', xaxis: xa, yaxis: ya, x: xs(p.cells), y: ys(p.cells),
    marker: {size: p.cellSize * 0.68, color: p.dark ? '#a8a4a6' : '#e6dfe8'}, hoverinfo: 'skip'});
});

layout.shapes = shapes;
const labelAt = (text, x, y, size) => ({
  text: '<b>' + text + '</b>', xref: 'paper', yref: 'paper', x: x / W_PX, y: 1 - y / H_PX,
  xanchor: 'center', yanchor: 'middle', showarrow: false, font: {size: size, color: '#33292b'}
});
layout.annotations = [
  labelAt(rowLabels[0], 74, 104, 88),
  labelAt(rowLabels[1], 74, 1332, 88),
  labelAt(rowLabels[2], 74, 2562, 88),
  labelAt(timeLabels[0], 1092, 3676, 74),
  labelAt(timeLabels[1], 2275, 3676, 74),
  labelAt(timeLabels[2], 3502, 3676, 74)
];

Plotly.newPlot('chart', traces, layout, {displayModeBar: false, staticPlot: true});
</script>
</body>
</html>
